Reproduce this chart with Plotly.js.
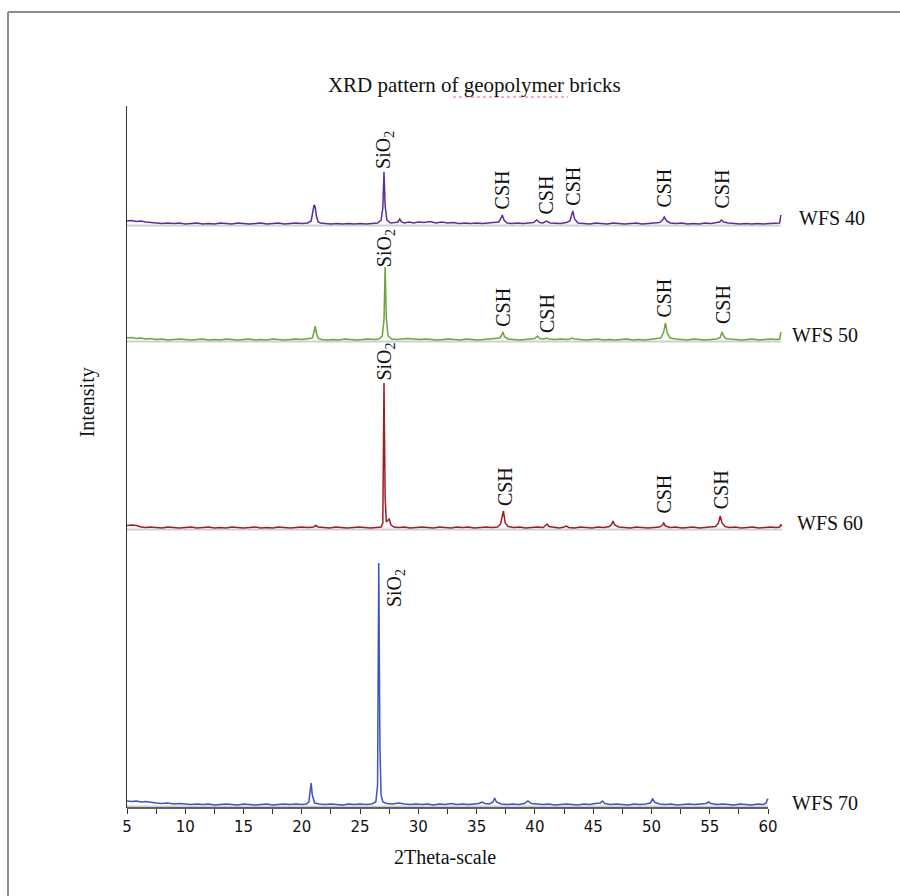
<!DOCTYPE html>
<html>
<head>
<meta charset="utf-8">
<script src="https://cdn.plot.ly/plotly-3.0.1.min.js"></script>
<style>html,body{margin:0;padding:0;background:#fff;}#chart{width:900px;height:896px;}</style>
</head>
<body>
<div id="chart"></div>
<script>
// ---------------- DATA ----------------
const seriesNames = ['WFS 40', 'WFS 50', 'WFS 60', 'WFS 70'];
const seriesOffsets = [584, 468, 280, 3];   // vertical stacking offset (a.u.)
const xTickVals = [5, 10, 15, 20, 25, 30, 35, 40, 45, 50, 55, 60];

const wfs40_2theta = [
  5.0,5.4,5.8,6.2,6.6,7.0,7.5,8.0,8.5,9.0,
  9.5,10.0,10.5,11.0,11.5,12.0,12.5,13.0,13.5,14.0,
  14.5,15.0,15.5,16.0,16.5,17.0,17.5,18.0,18.5,19.0,
  19.5,20.0,20.5,20.8,20.95,21.05,21.15,21.25,21.4,21.6,
  22.0,22.5,23.0,23.5,24.0,24.5,25.0,25.5,26.0,26.5,
  26.8,26.95,27.05,27.15,27.3,27.6,28.0,28.25,28.4,28.55,
  28.8,29.2,29.6,30.0,30.5,31.0,31.5,32.0,32.5,33.0,
  33.5,34.0,34.5,35.0,35.5,36.0,36.5,36.9,37.1,37.2,
  37.35,37.6,38.0,38.5,39.0,39.5,39.9,40.15,40.4,40.7,
  41.0,41.3,41.7,42.2,42.7,43.0,43.15,43.25,43.4,43.7,
  44.2,44.7,45.2,45.7,46.2,46.7,47.2,47.7,48.2,48.7,
  49.2,49.7,50.2,50.7,50.95,51.1,51.3,51.6,52.1,52.6,
  53.1,53.6,54.1,54.6,55.1,55.6,55.85,56.0,56.2,56.6,
  57.1,57.6,58.1,58.6,59.1,59.6,60.1,60.6,61.0,61.05,
  61.1
];
const wfs40_counts = [
  3,3.5,2.5,3,2,1.5,1,0.5,1,0.5,
  1,0,0.5,1,0,0.5,0,1,0.5,0,
  1,0.5,0,0.5,1,0,0.5,1,0,0.5,
  1,0.5,1,3,14,19,17,8,2,1,
  0.5,0,0.5,0,0.5,0,0.5,0,0.5,1,
  4,16,52,18,4,1,1.5,2,5,2,
  1,2,1,2,1.5,2.5,1,2,1,1.5,
  0.5,1,0.5,1,0.5,1,1.5,2,6,9,
  4,1,0.5,1,0.5,1,1.5,4,1.5,1,
  3,1,1,0.5,1.5,3,9,13,5,1,
  0.5,0,1,0.5,0,1,0.5,0,0.5,1,
  0,0.5,1,1.5,4,7,3,1,0.5,1,
  0,0.5,0,1,0.5,1,2,4,2,1,
  0.5,0,0.5,0,0.5,0,0.5,0.5,1,5,
  9
];

const wfs50_2theta = [
  5.0,5.4,5.8,6.2,6.6,7.0,7.5,8.0,8.5,9.0,
  9.5,10.0,10.5,11.0,11.5,12.0,12.5,13.0,13.5,14.0,
  14.5,15.0,15.5,16.0,16.5,17.0,17.5,18.0,18.5,19.0,
  19.5,20.0,20.5,20.9,21.05,21.15,21.25,21.4,21.7,22.2,
  22.7,23.2,23.7,24.2,24.7,25.2,25.7,26.2,26.6,26.9,
  27.05,27.15,27.25,27.4,27.7,28.1,28.6,29.1,29.6,30.1,
  30.6,31.1,31.6,32.1,32.6,33.1,33.6,34.1,34.6,35.1,
  35.6,36.1,36.6,37.0,37.15,37.25,37.4,37.7,38.2,38.7,
  39.2,39.7,40.0,40.2,40.4,40.8,41.0,41.2,41.7,42.2,
  42.7,43.0,43.2,43.4,43.9,44.4,44.9,45.4,45.9,46.4,
  46.9,47.4,47.9,48.4,48.9,49.4,49.9,50.4,50.8,51.05,
  51.2,51.35,51.6,52.1,52.6,53.1,53.6,54.1,54.6,55.1,
  55.6,55.9,56.05,56.15,56.35,56.7,57.2,57.7,58.2,58.7,
  59.2,59.7,60.2,60.7,61.0,61.05,61.1
];
const wfs50_counts = [
  2,2.5,1.5,2,1,1.5,0.5,1,0,0.5,
  1,0.5,0,0.5,1,0,0.5,0,1,0.5,
  0,0.5,1,0,0.5,0,1,0.5,0,0.5,
  1,0.5,1,2,8,14,7,1.5,0.5,0,
  0.5,0,1,0.5,0,0.5,1,0.5,1,4,
  20,73,22,4,1,0.5,1,1.5,1,0.5,
  1,0.5,0,0.5,1,0.5,0,1,0.5,0,
  0.5,1,1,2,5,8,3,1,0.5,0,
  0.5,1,1.5,4,1.5,1,2,1,0.5,1,
  0.5,1,2,1,0.5,0,0.5,1,0,0.5,
  0,0.5,1,0,0.5,0,0.5,1,2,8,
  17,7,2,1,0.5,0,1,0.5,0,0.5,
  1,2.5,8,5,1.5,1,0.5,0,0.5,1,
  0,0.5,1,0.5,1,4,8
];

const wfs60_2theta = [
  5.0,5.4,5.8,6.2,6.6,7.0,7.5,8.0,8.5,9.0,
  9.5,10.0,10.5,11.0,11.5,12.0,12.5,13.0,13.5,14.0,
  14.5,15.0,15.5,16.0,16.5,17.0,17.5,18.0,18.5,19.0,
  19.5,20.0,20.5,21.0,21.2,21.4,21.9,22.4,22.9,23.4,
  23.9,24.4,24.9,25.4,25.9,26.4,26.8,26.95,27.05,27.15,
  27.25,27.4,27.5,27.65,27.9,28.3,28.8,29.3,29.8,30.3,
  30.8,31.3,31.8,32.3,32.8,33.3,33.8,34.3,34.8,35.3,
  35.8,36.3,36.8,37.05,37.2,37.3,37.45,37.7,38.2,38.7,
  39.2,39.7,40.2,40.7,40.95,41.05,41.2,41.6,42.1,42.5,
  42.7,42.9,43.4,43.9,44.4,44.9,45.4,45.9,46.4,46.6,
  46.7,46.85,47.2,47.7,48.2,48.7,49.2,49.7,50.2,50.7,
  50.95,51.05,51.2,51.6,52.1,52.6,53.1,53.6,54.1,54.6,
  55.1,55.5,55.75,55.9,56.05,56.3,56.7,57.2,57.7,58.2,
  58.7,59.2,59.7,60.2,60.7,61.0,61.1,61.2
];
const wfs60_counts = [
  2.5,3,2.5,1,0.5,1,0.5,0,1,0.5,
  0,0.5,1,0,0.5,1,0,0.5,0,1,
  0.5,0,0.5,1,0,0.5,0,1,0.5,0,
  0.5,1,0.5,1,2.5,1,0.5,0,1,0.5,
  0,0.5,1,0.5,0,0.5,1,5,145,30,
  6,8,9,3,1,0.5,1,0,0.5,1,
  0.5,0,1,0.5,0,1,0.5,1,0,0.5,
  1,0.5,1,4,14,17,5,1.5,0.5,1,
  0,0.5,1,0.5,2.5,4,1.5,0.5,0,1,
  2,0.5,0,1,0.5,0,1,0.5,1.5,4,
  7,3,1,0.5,0,1,0.5,0,0.5,1,
  3,5,2,0.5,1,0,0.5,1,0,0.5,
  1,1.5,5,12,5,1.5,0.5,1,0,0.5,
  1,0,0.5,1,0.5,1,3,2
];

const wfs70_2theta = [
  5.0,5.4,5.8,6.2,6.6,7.0,7.5,8.0,8.5,9.0,
  9.5,10.0,10.5,11.0,11.5,12.0,12.5,13.0,13.5,14.0,
  14.5,15.0,15.5,16.0,16.5,17.0,17.5,18.0,18.5,19.0,
  19.5,20.0,20.4,20.6,20.7,20.8,20.9,21.1,21.5,22.0,
  22.5,23.0,23.5,24.0,24.5,25.0,25.5,26.0,26.35,26.5,
  26.6,26.7,26.8,26.95,27.3,27.8,28.3,28.8,29.3,29.8,
  30.3,30.8,31.3,31.8,32.3,32.8,33.3,33.8,34.3,34.8,
  35.2,35.45,35.7,36.1,36.4,36.55,36.7,37.1,37.6,38.1,
  38.6,39.1,39.4,39.7,40.2,40.7,41.2,41.7,42.2,42.7,
  43.2,43.7,44.2,44.7,45.2,45.6,45.8,46.0,46.5,47.0,
  47.5,48.0,48.5,49.0,49.5,49.9,50.1,50.3,50.7,51.2,
  51.7,52.2,52.7,53.2,53.7,54.2,54.7,54.9,55.1,55.6,
  56.1,56.6,57.1,57.6,58.1,58.6,59.1,59.6,59.85,59.95,
  60.0
];
const wfs70_counts = [
  4,3.5,4,3,3.5,2.5,2,1.5,2,1,
  1.5,1,0.5,1,0.5,1,0,0.5,1,0.5,
  0,1,0.5,0,0.5,1,0,0.5,1,0.5,
  1,0.5,1,3,12,22,10,2,1,0.5,
  1,0.5,0,1,0.5,1,0.5,1,3,20,
  242,60,10,3,1.5,1,2,1,0.5,1,
  0.5,1,0,1,0.5,1.5,0.5,1,0.5,1,
  1.5,3,1.5,1,3,7,3,1,0.5,1,
  0.5,1.5,4,1.5,1,0.5,1,0,0.5,1,
  0.5,0,1,0.5,1.5,2,4,1.5,0.5,1,
  0.5,0,1,0.5,1,2,6,2.5,1,0.5,
  1,0,0.5,1,0.5,1,1.5,3,1.5,0.5,
  1,0.5,0,1,0.5,0,1,0.5,2,6,
  5
];

// phase labels (text and 2θ position)
const phases40 = ['SiO<sub>2</sub>','CSH','CSH','CSH','CSH','CSH'];
const phasePos40 = [27.05, 37.17, 40.95, 43.2, 51.0, 55.97];
const phases50 = ['SiO<sub>2</sub>','CSH','CSH','CSH','CSH'];
const phasePos50 = [27.15, 37.2, 41.0, 51.0, 56.1];
const phases60 = ['SiO<sub>2</sub>','CSH','CSH','CSH'];
const phasePos60 = [27.1, 37.4, 51.0, 55.95];
const phases70 = ['SiO<sub>2</sub>'];
const phasePos70 = [28.0];

// ---------------- STYLE / LAYOUT ----------------
const colors = ['#5b2d9f', '#6ba53b', '#a11d24', '#3f52c6'];
const labelBottoms = [[638, 598, 593, 601, 599, 598], [540, 480, 474, 489, 483], [426, 301, 293, 298], [200]];
const namePaperX = [1.023, 1.012, 1.020, 1.012];
const nameY = [590, 473, 285, 5];

const xs = [wfs40_2theta, wfs50_2theta, wfs60_2theta, wfs70_2theta];
const cs = [wfs40_counts, wfs50_counts, wfs60_counts, wfs70_counts];
const phs = [phases40, phases50, phases60, phases70];
const php = [phasePos40, phasePos50, phasePos60, phasePos70];

const serif = 'Liberation Serif, Times New Roman, serif';
const traces = [];
// light grey baseline shadow under each pattern
for (let i = 0; i < 4; i++) {
  const x = xs[i];
  traces.push({
    x: [x[0], x[x.length - 1]], y: [seriesOffsets[i] - 1.5, seriesOffsets[i] - 1.5],
    mode: 'lines', line: {color: '#cfcfcf', width: 2}, hoverinfo: 'skip', showlegend: false
  });
}
for (let i = 0; i < 4; i++) {
  traces.push({
    x: xs[i], y: cs[i].map(v => v + seriesOffsets[i]),
    name: seriesNames[i], mode: 'lines', line: {color: colors[i], width: 1.5}, showlegend: false
  });
}

const annotations = [];
for (let i = 0; i < 4; i++) {
  annotations.push({
    x: namePaperX[i], y: nameY[i], xref: 'paper', yref: 'y', text: seriesNames[i], showarrow: false,
    xanchor: 'left', yanchor: 'middle', font: {family: serif, size: 20, color: '#111'}
  });
  phs[i].forEach((t, j) => {
    annotations.push({
      x: php[i][j], y: labelBottoms[i][j], xref: 'x', yref: 'y', text: t, showarrow: false,
      textangle: -90, xanchor: 'center', yanchor: 'bottom', borderpad: 0,
      font: {family: serif, size: 20, color: '#111'}
    });
  });
}
annotations.push({
  x: -0.061, y: 0.578, xref: 'paper', yref: 'paper', text: 'Intensity', showarrow: false,
  textangle: -90, xanchor: 'center', yanchor: 'middle', font: {family: serif, size: 20, color: '#111'}
});
annotations.push({
  x: 32.3, y: -0.0698, xref: 'x', yref: 'paper', text: '2Theta-scale', showarrow: false,
  xanchor: 'center', yanchor: 'middle', font: {family: serif, size: 20, color: '#111'}
});

const shapes = [
  // x axis line (5 to 60 only)
  {type: 'line', xref: 'x', yref: 'paper', x0: xTickVals[0], x1: xTickVals[xTickVals.length - 1], y0: 0, y1: 0,
   line: {color: '#333', width: 1.5}},
  // outer frame (top and left edges visible)
  {type: 'line', xref: 'paper', yref: 'paper', x0: -0.1817, x1: -0.1817, y0: -0.13, y1: 1.1339,
   line: {color: '#8c8c8c', width: 2}},
  {type: 'line', xref: 'paper', yref: 'paper', x0: -0.1817, x1: 1.19, y0: 1.1339, y1: 1.1339,
   line: {color: '#8c8c8c', width: 2}},
  // spell-check underline under "geopolymer"
  {type: 'line', xref: 'paper', yref: 'paper', x0: 0.4977, x1: 0.6733, y0: 1.0128, y1: 1.0128,
   line: {color: '#e06666', width: 1, dash: 'dot'}}
];

const layout = {
  width: 900, height: 896,
  margin: {l: 127, r: 118, t: 106, b: 88},
  paper_bgcolor: '#fff', plot_bgcolor: '#fff',
  title: {text: 'XRD pattern of geopolymer bricks', font: {family: serif, size: 21, color: '#111'},
          x: 0.527, xref: 'container', xanchor: 'center', y: 0.905, yref: 'container', yanchor: 'middle'},
  xaxis: {
    range: [5, 61.2], showgrid: false, zeroline: false, showline: false,
    tickmode: 'array', tickvals: xTickVals, ticktext: xTickVals.map(String),
    ticks: 'outside', ticklen: 5, tickwidth: 1, tickcolor: '#333',
    minor: {dtick: 2.5, tick0: 5, ticks: 'outside', ticklen: 5, tickwidth: 1, tickcolor: '#333', showgrid: false},
    tickfont: {family: 'DejaVu Sans, sans-serif', size: 15, color: '#111'}
  },
  yaxis: {
    range: [0, 702], showgrid: false, zeroline: false, showline: true, linecolor: '#333', linewidth: 1.5,
    ticks: '', showticklabels: false
  },
  annotations: annotations,
  shapes: shapes,
  showlegend: false
};

Plotly.newPlot('chart', traces, layout, {displayModeBar: false, staticPlot: true});
</script>
</body>
</html>
